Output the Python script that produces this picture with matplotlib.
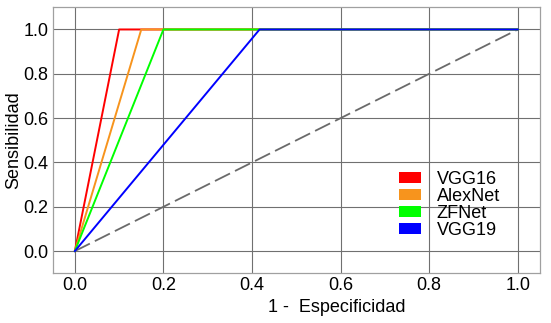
import matplotlib.pyplot as plt
from matplotlib.patches import Patch

plt.rcParams['font.family'] = ['Liberation Sans', 'DejaVu Sans']

# curvas ROC (1 - especificidad, sensibilidad)
modelos = ['VGG16', 'AlexNet', 'ZFNet', 'VGG19']
colores = ['#ff0000', '#f7941d', '#00ff00', '#0000ff']
fpr = [
    [0.0, 0.10, 1.0],
    [0.0, 0.15, 1.0],
    [0.0, 0.20, 1.0],
    [0.0, 0.417, 1.0],
]
tpr = [
    [0.0, 1.0, 1.0],
    [0.0, 1.0, 1.0],
    [0.0, 1.0, 1.0],
    [0.0, 1.0, 1.0],
]
diag = [0.0, 1.0]
ticks = [0.0, 0.2, 0.4, 0.6, 0.8, 1.0]

fig = plt.figure(figsize=(5.51, 3.23), dpi=100)
ax = fig.add_axes([0.0956, 0.1539, 0.8844, 0.8235])

ax.plot(diag, diag, color='#6a6a6a', lw=1.3, dashes=(9.3, 3.1), zorder=2)
for x, y, c in zip(fpr, tpr, colores):
    ax.plot(x, y, color=c, lw=1.4, zorder=3)

ax.set_xlim(-0.05, 1.05)
ax.set_ylim(-0.1, 1.1)
ax.set_xticks(ticks)
ax.set_yticks(ticks)
ax.set_xticklabels([f'{t:.1f}' for t in ticks])
ax.set_yticklabels([f'{t:.1f}' for t in ticks])
ax.tick_params(length=0, labelsize=13, pad=3, colors='black')
ax.grid(True, color='#707070', lw=0.8)
ax.set_axisbelow(True)
for s in ax.spines.values():
    s.set_color('#a0a0a0')
    s.set_linewidth(0.9)

ax.set_ylabel('Sensibilidad', fontsize=13, labelpad=1)
fig.text(337 / 551, 1 - 307 / 323, '1 -  Especificidad', fontsize=13,
         ha='center', va='center')

handles = [Patch(facecolor=c, edgecolor='none') for c in colores]
ax.legend(handles, modelos, loc='upper left', bbox_to_anchor=(0.711, 0.385),
          frameon=False, fontsize=13, borderpad=0, borderaxespad=0,
          handlelength=1.2, handleheight=0.55, handletextpad=0.87,
          labelspacing=0.0)

plt.savefig('out.png', dpi=100)
